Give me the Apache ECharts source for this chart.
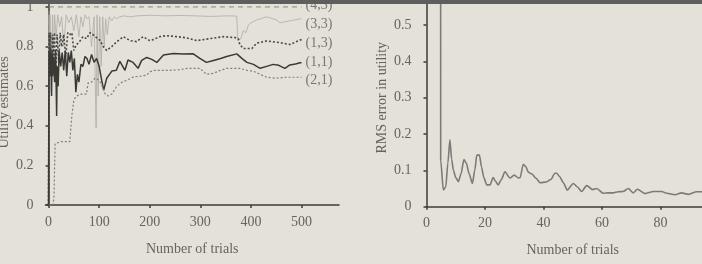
<!DOCTYPE html>
<html>
<head>
<meta charset="utf-8">
<script src="https://cdn.jsdelivr.net/npm/echarts@6/dist/echarts.min.js"></script>
<style>html,body{margin:0;padding:0;background:#e4e1d8;}#c{width:702px;height:264px;}</style>
</head>
<body>
<div id="c"></div>
<script>
// ---- Left panel: utility estimates vs number of trials ----
const leftXTicks = [0, 100, 200, 300, 400, 500];
const leftYTicks = [0, 0.2, 0.4, 0.6, 0.8, 1];

const x43 = [0, 1, 500];
const u43 = [0, 1, 1];

const x33 = [0, 1, 2, 3, 5, 8, 10, 12, 15, 18, 22, 26, 30, 35, 40, 45, 50, 55, 60, 64, 68, 72, 76, 80, 85, 90, 94, 96, 98, 101, 104, 107, 110, 113, 116, 120, 125, 130, 135, 140, 150, 160, 175, 200, 230, 260, 290, 320, 350, 372, 374, 376, 380, 385, 390, 395, 400, 411, 431, 451, 457, 477, 497, 500];
const u33 = [0, 0.96, 0.7, 0.96, 0.57, 0.96, 0.75, 0.96, 0.85, 0.96, 0.9, 0.95, 0.8, 0.96, 0.92, 0.95, 0.88, 0.96, 0.85, 0.95, 0.9, 0.96, 0.94, 0.95, 0.8, 0.95, 0.39, 0.96, 0.55, 0.95, 0.7, 0.95, 0.8, 0.94, 0.86, 0.95, 0.93, 0.95, 0.94, 0.95, 0.955, 0.95, 0.955, 0.958, 0.955, 0.957, 0.955, 0.952, 0.955, 0.954, 0.83, 0.825, 0.84, 0.88, 0.87, 0.91, 0.92, 0.934, 0.95, 0.934, 0.92, 0.93, 0.94, 0.94];

const x13 = [0, 1, 2, 4, 6, 8, 10, 12, 14, 17, 20, 23, 26, 30, 34, 38, 42, 46, 50, 55, 60, 68, 75, 82, 88, 92, 98, 102, 108, 115, 125, 135, 148, 161, 174, 187, 200, 207, 220, 233, 253, 270, 293, 319, 346, 369, 375, 378, 385, 402, 411, 431, 457, 477, 497, 500];
const u13 = [0, 0.87, 0.8, 0.87, 0.7, 0.86, 0.75, 0.87, 0.65, 0.86, 0.72, 0.87, 0.8, 0.86, 0.75, 0.87, 0.86, 0.87, 0.78, 0.81, 0.82, 0.85, 0.84, 0.87, 0.86, 0.85, 0.84, 0.83, 0.80, 0.78, 0.80, 0.825, 0.85, 0.83, 0.825, 0.85, 0.83, 0.835, 0.85, 0.855, 0.85, 0.845, 0.83, 0.84, 0.85, 0.845, 0.84, 0.81, 0.79, 0.79, 0.817, 0.828, 0.82, 0.81, 0.833, 0.835];

const x11 = [0, 1, 2, 3, 4, 5, 6, 7, 8, 10, 12, 14, 16, 17, 19, 21, 24, 27, 30, 33, 36, 39, 42, 45, 48, 51, 54, 57, 60, 64, 68, 72, 76, 80, 85, 90, 95, 100, 105, 109, 115, 125, 134, 141, 151, 157, 167, 177, 184, 194, 204, 214, 227, 247, 266, 286, 299, 312, 326, 340, 352, 372, 382, 392, 405, 418, 431, 444, 455, 467, 477, 488, 497, 500];
const u11 = [0, 0.78, 0.7, 0.8, 0.65, 0.76, 0.55, 0.78, 0.65, 0.75, 0.62, 0.78, 0.45, 0.7, 0.6, 0.78, 0.7, 0.77, 0.68, 0.78, 0.65, 0.77, 0.72, 0.78, 0.68, 0.74, 0.57, 0.66, 0.62, 0.71, 0.70, 0.75, 0.74, 0.71, 0.76, 0.72, 0.74, 0.70, 0.63, 0.58, 0.64, 0.676, 0.68, 0.725, 0.68, 0.732, 0.72, 0.69, 0.73, 0.745, 0.735, 0.72, 0.757, 0.765, 0.762, 0.763, 0.74, 0.72, 0.73, 0.74, 0.75, 0.763, 0.74, 0.72, 0.71, 0.69, 0.70, 0.71, 0.705, 0.69, 0.707, 0.712, 0.718, 0.718];

const x21 = [0, 9, 11, 12, 13, 16, 25, 35, 42, 45, 46, 50, 55, 58, 65, 75, 78, 85, 92, 100, 106, 112, 118, 125, 130, 135, 145, 155, 168, 181, 194, 200, 210, 220, 240, 260, 273, 299, 312, 326, 340, 352, 378, 392, 405, 418, 431, 450, 470, 497, 500];
const u21 = [0, 0, 0.05, 0.2, 0.31, 0.315, 0.32, 0.32, 0.32, 0.33, 0.45, 0.53, 0.55, 0.54, 0.56, 0.56, 0.615, 0.62, 0.64, 0.63, 0.6, 0.56, 0.55, 0.56, 0.58, 0.6, 0.62, 0.63, 0.647, 0.65, 0.656, 0.673, 0.68, 0.68, 0.68, 0.683, 0.69, 0.69, 0.66, 0.665, 0.68, 0.69, 0.69, 0.68, 0.675, 0.66, 0.645, 0.64, 0.645, 0.645, 0.645];

// ---- Right panel: RMS error vs number of trials ----
const rmsTrials = [0, 4.8, 4.85, 5.75, 6.6, 7.3, 8.0, 8.6, 9.2, 10, 10.9, 11.8, 12.8, 13.6, 14.6, 15.7, 16.5, 17.2, 18.1, 18.8, 19.6, 20.6, 21.7, 22.8, 23.6, 24.5, 25.6, 26.8, 28.5, 30, 31.4, 32, 33.1, 34, 34.8, 36, 37.5, 38.8, 41, 42.5, 43.9, 44.5, 45.5, 46.8, 48.1, 50.2, 51.5, 53, 54.8, 56.8, 58.2, 60.4, 62, 63.8, 65.5, 67.2, 69, 70.7, 72.1, 74.7, 77.6, 80.4, 82.1, 85, 87.2, 89.5, 92.4, 94, 97, 100];
const rmsError = [1.5, 1.5, 0.128, 0.046, 0.055, 0.12, 0.184, 0.13, 0.10, 0.08, 0.069, 0.09, 0.13, 0.12, 0.09, 0.064, 0.1, 0.142, 0.142, 0.11, 0.08, 0.06, 0.06, 0.08, 0.07, 0.06, 0.075, 0.096, 0.079, 0.087, 0.079, 0.08, 0.117, 0.11, 0.095, 0.09, 0.078, 0.066, 0.068, 0.075, 0.092, 0.092, 0.083, 0.066, 0.046, 0.064, 0.055, 0.042, 0.058, 0.047, 0.05, 0.037, 0.038, 0.038, 0.041, 0.042, 0.05, 0.038, 0.048, 0.036, 0.042, 0.042, 0.037, 0.033, 0.038, 0.034, 0.041, 0.041, 0.038, 0.04];

const zip = (a, b) => a.map((v, i) => [v, b[i]]);
const FONT = 'Liberation Serif';
const TXT = '#666360';
const AX = '#3c3b38';

const chart = echarts.init(document.getElementById('c'), null, {renderer: 'canvas'});

function lineSeries(name, xs, ys, color, width, type, dy, xi) {
  return {
    name: name, type: 'line', xAxisIndex: xi || 0, yAxisIndex: xi || 0,
    data: zip(xs, ys), showSymbol: false, symbol: 'none', animation: false,
    lineStyle: {color: color, width: width, type: type},
    endLabel: dy === null ? {show: false} : {
      show: true, formatter: '{a}', distance: 4, offset: [0, dy],
      color: '#7a7772', fontFamily: FONT, fontSize: 14
    },
    clip: true, z: 3
  };
}

const axisCommon = {
  axisLine: {show: true, lineStyle: {color: AX, width: 1.5}},
  axisTick: {show: true, length: 3, lineStyle: {color: AX, width: 1.5}},
  splitLine: {show: false},
  axisLabel: {color: TXT, fontFamily: FONT, fontSize: 14},
  nameTextStyle: {color: TXT, fontFamily: FONT, fontSize: 14}
};

const option = {
  backgroundColor: '#e4e1d8',
  animation: false,
  grid: [
    {left: 45.5, right: 363, top: 0, bottom: 59, containLabel: false, outerBoundsMode: 'none'},
    {left: 426.5, right: -17, top: -11.3, bottom: 57.3, containLabel: false, outerBoundsMode: 'none'}
  ],
  xAxis: [
    Object.assign({}, axisCommon, {
      type: 'value', gridIndex: 0, min: -6, max: 574,
      axisTick: Object.assign({}, axisCommon.axisTick, {customValues: leftXTicks}),
      axisLabel: Object.assign({}, axisCommon.axisLabel, {customValues: leftXTicks, margin: 10}),
      name: 'Number of trials', nameLocation: 'middle', nameGap: 37
    }),
    Object.assign({}, axisCommon, {
      type: 'value', gridIndex: 1, min: 0, max: 100, interval: 20,
      axisLabel: Object.assign({}, axisCommon.axisLabel, {margin: 10}),
      name: 'Number of trials', nameLocation: 'middle', nameGap: 37
    })
  ],
  yAxis: [
    Object.assign({}, axisCommon, {
      type: 'value', gridIndex: 0, min: 0, max: 1.035,
      axisTick: Object.assign({}, axisCommon.axisTick, {customValues: leftYTicks}),
      axisLabel: Object.assign({}, axisCommon.axisLabel, {customValues: leftYTicks, margin: 12}),
      name: 'Utility estimates', nameLocation: 'middle', nameGap: 34
    }),
    Object.assign({}, axisCommon, {
      type: 'value', gridIndex: 1, min: 0, max: 0.6, interval: 0.1,
      axisLabel: Object.assign({}, axisCommon.axisLabel, {margin: 15, showMaxLabel: false}),
      name: 'RMS error in utility', nameLocation: 'middle', nameGap: 37
    })
  ],
  series: [
    lineSeries('(4,3)', x43, u43, '#8a8883', 1, [5, 4], -2),
    lineSeries('(3,3)', x33, u33, '#aeaca7', 0.8, 'solid', 6),
    lineSeries('(1,3)', x13, u13, '#4a4946', 1.6, [2, 2], 4),
    lineSeries('(1,1)', x11, u11, '#3a3936', 1.5, 'solid', 0),
    lineSeries('(2,1)', x21, u21, '#807e79', 1.2, [2, 2], 3),
    Object.assign(lineSeries('RMS', rmsTrials, rmsError, '#7d7b77', 1.6, 'solid', null, 1),
      {smooth: 0.25, smoothMonotone: 'x'})
  ],
  graphic: [
    {type: 'rect', left: 0, top: 0, z: 100, shape: {width: 702, height: 4}, style: {fill: '#5e5e5c'}}
  ]
};
chart.setOption(option);
</script>
</body>
</html>
